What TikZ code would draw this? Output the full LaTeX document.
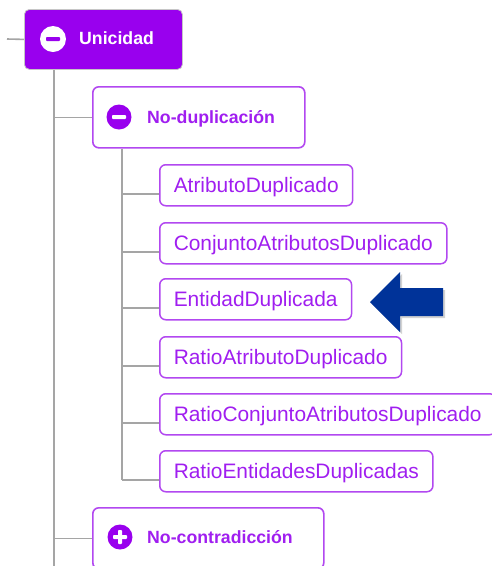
\documentclass[tikz,border=0pt]{standalone}
\usepackage{fontspec}
\setmainfont{Liberation Sans}
\usetikzlibrary{shadows}
\definecolor{rootpurple}{RGB}{153,0,238}
\definecolor{leafborder}{RGB}{178,72,240}
\definecolor{leaftext}{RGB}{160,30,240}
\definecolor{linegray}{RGB}{165,165,165}
\definecolor{arrowblue}{RGB}{0,51,153}
\begin{document}
\begin{tikzpicture}[x=1pt,y=-1pt,
 conn/.style={draw=linegray,line width=1.6pt},
 rootbox/.style={draw=gray!45,line width=0.8pt,fill=rootpurple,rounded corners=5pt,minimum width=158pt,minimum height=60pt,anchor=north west,inner sep=0pt},
 midbox/.style={draw=leafborder,line width=1.6pt,fill=white,rounded corners=6pt,minimum height=61pt,anchor=north west,inner sep=0pt},
 leafbox/.style={draw=leafborder,line width=1.5pt,fill=white,rounded corners=6pt,minimum height=41pt,anchor=north west,inner xsep=14pt,inner ysep=0pt,text=leaftext,font=\fontsize{20.9}{24}\selectfont,text height=14.9pt,text depth=0pt},
 boldlbl/.style={anchor=base west,inner sep=0pt,font=\fontsize{17.7}{21}\selectfont\bfseries},
 iconw/.style={circle,fill=white,minimum size=26pt,inner sep=0pt},
 iconp/.style={circle,fill=rootpurple,minimum size=25pt,inner sep=0pt},
 bar/.style={rounded corners=0.8pt},
]
\useasboundingbox (0,0) rectangle (491,566);
\fill[white] (0,0) rectangle (491,566);

% top level boxes
\node[rootbox] (root) at (24,9) {};
\node[midbox,minimum width=212pt] (ndup) at (92,86) {};
\node[midbox,minimum width=231pt] (ncon) at (92,507) {};

% leaf boxes
\node[leafbox] (a1) at (159,164) {AtributoDuplicado};
\node[leafbox] (a2) at (159,222) {ConjuntoAtributosDuplicado};
\node[leafbox] (a3) at (159,278) {EntidadDuplicada};
\node[leafbox] (a4) at (159,336) {RatioAtributoDuplicado};
\node[leafbox] (a5) at (159,393) {RatioConjuntoAtributosDuplicado};
\node[leafbox] (a6) at (159,450) {RatioEntidadesDuplicadas};

% icons and labels
\node[iconw] (rooticon) at (53,39) {};
\fill[rootpurple,bar] ([xshift=-7pt,yshift=2pt]rooticon.center) rectangle ([xshift=7pt,yshift=-2pt]rooticon.center);
\node[boldlbl,text=white] (rootlbl) at (79,44) {Unicidad};

\node[iconp] (ndupicon) at (119,117) {};
\fill[white,bar] ([xshift=-7pt,yshift=2pt]ndupicon.center) rectangle ([xshift=7pt,yshift=-2pt]ndupicon.center);
\node[boldlbl,text=leaftext] (nduplbl) at (147,123) {No-duplicación};

\node[iconp] (nconicon) at (120,537) {};
\fill[white,bar] ([xshift=-7pt,yshift=2pt]nconicon.center) rectangle ([xshift=7pt,yshift=-2pt]nconicon.center);
\fill[white,bar] ([xshift=-2pt,yshift=7pt]nconicon.center) rectangle ([xshift=2pt,yshift=-7pt]nconicon.center);
\node[boldlbl,text=leaftext] (nconlbl) at (147,543) {No-contradicción};

% connectors
\coordinate (start) at (7,39);
\coordinate (v1) at ([xshift=30pt]root.south west);
\coordinate (vend) at (54,566);
\coordinate (v2) at ([xshift=30pt]ndup.south west);
\draw[conn] (start) -- (root.west);
\draw[conn] (v1) -- (v1 |- vend);
\draw[conn] (ndup.west) -- (ndup.west -| v1);
\draw[conn] (ncon.west) -- (ncon.west -| v1);
\foreach \n in {a1,a2,a3,a4,a5,a6}{
  \coordinate (\n c) at ([yshift=-8.5pt]\n.west);
  \draw[conn] (\n c) -- (\n c -| v2);
}
\draw[conn] (v2) -- (a6c -| v2);

% blue arrow
\fill[arrowblue,drop shadow={shadow xshift=2pt,shadow yshift=-2pt,opacity=0.35}]
  (370,302) -- (400,272) -- (400,288) -- (443,288) -- (443,316) -- (400,316) -- (400,332) -- cycle;
\end{tikzpicture}
\end{document}
